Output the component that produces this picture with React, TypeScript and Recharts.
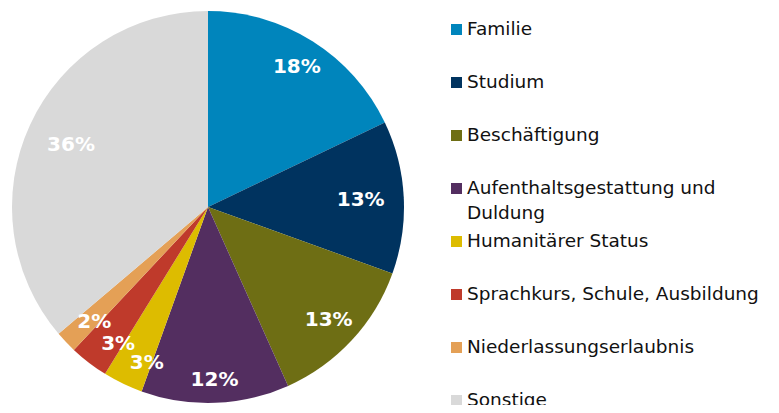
import React from "react";
import { PieChart, Pie, Cell } from "recharts";

const categories = [
  "Familie",
  "Studium",
  "Beschäftigung",
  "Aufenthaltsgestattung und Duldung",
  "Humanitärer Status",
  "Sprachkurs, Schule, Ausbildung",
  "Niederlassungserlaubnis",
  "Sonstige",
];
const shares = [17.9, 12.6, 12.8, 12.2, 3.3, 3.2, 1.8, 36.2];
const colors = ["#0085BC", "#00335F", "#6E6E14", "#532E60", "#DDBC00", "#BF3A2B", "#E4A056", "#D9D9D9"];

// label placement tweaks (styling, per slice): radius fraction and angle nudge in degrees
const labelRadius = [0.85, 0.78, 0.84, 0.88, 0.85, 0.83, 0.82, 0.77];
const labelAngleNudge = [0, 0, 0, 0, 4.2, 3.9, 1.4, 0];

const data = categories.map((name, i) => ({ name, value: shares[i] }));

const RAD = Math.PI / 180;
const FONT = "'DejaVu Sans', Verdana, sans-serif";

const renderLabel = (props: any) => {
  const { cx, cy, midAngle, outerRadius, index, value } = props;
  const r = outerRadius * labelRadius[index];
  const a = midAngle + labelAngleNudge[index];
  const x = cx + r * Math.cos(-a * RAD);
  const y = cy + r * Math.sin(-a * RAD);
  return (
    <text
      x={x}
      y={y}
      fill="#ffffff"
      fontFamily={FONT}
      fontWeight="bold"
      fontSize={20}
      textAnchor="middle"
      dominantBaseline="central"
    >
      {`${Math.round(value)}%`}
    </text>
  );
};

export default function App() {
  return (
    <div style={{ margin: -8, width: 779, height: 413, background: "#fff", position: "relative" }}>
      <PieChart width={779} height={413} margin={{ top: 0, right: 0, bottom: 0, left: 0 }}>
        <Pie
          data={data}
          dataKey="value"
          nameKey="name"
          cx={208}
          cy={207}
          outerRadius={196}
          startAngle={90}
          endAngle={-270}
          stroke="none"
          label={renderLabel}
          labelLine={false}
          isAnimationActive={false}
        >
          {data.map((d, i) => (
            <Cell key={d.name} fill={colors[i]} />
          ))}
        </Pie>
      </PieChart>
      <div
        style={{
          position: "absolute",
          left: 451,
          top: 16,
          fontFamily: FONT,
          fontSize: 18.5,
          color: "#111",
          width: 328,
        }}
      >
        {data.map((d, i) => (
          <div key={d.name} style={{ height: 53, display: "flex", alignItems: "flex-start" }}>
            <div
              style={{
                width: 11,
                height: 11,
                background: colors[i],
                marginTop: 8,
                marginRight: 5,
                flex: "0 0 auto",
              }}
            />
            <div style={{ lineHeight: "25px", width: 305 }}>{d.name}</div>
          </div>
        ))}
      </div>
    </div>
  );
}
